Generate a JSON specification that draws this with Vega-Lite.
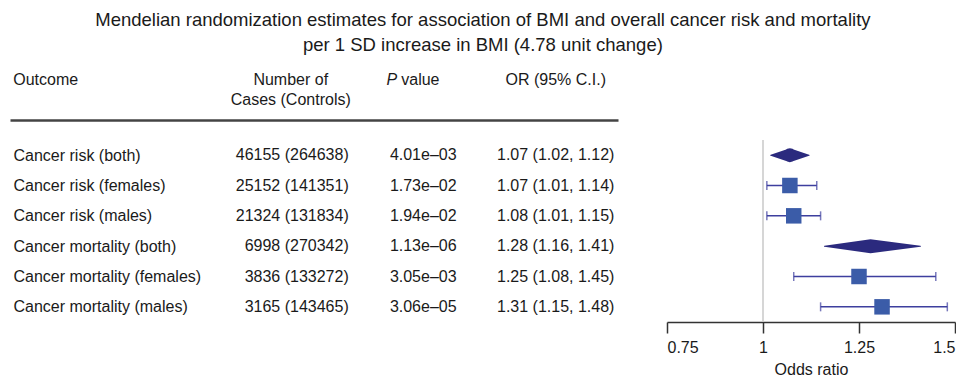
{
  "$schema": "https://vega.github.io/schema/vega-lite/v6.json",
  "padding": {"left": 10, "top": 10, "right": 0, "bottom": 0},
  "background": "white",
  "title": {
    "text": ["Mendelian randomization estimates for association of BMI and overall cancer risk and mortality", "per 1 SD increase in BMI (4.78 unit change)"],
    "anchor": "middle",
    "fontSize": 18.5,
    "fontWeight": "normal",
    "lineHeight": 25,
    "color": "#1a1a1a",
    "offset": 6
  },
  "datasets": {
    "rows": [
      {"outcome": "Cancer risk (both)", "cases": "46155 (264638)", "p": "4.01e–03", "or_ci": "1.07 (1.02, 1.12)", "or": 1.07, "lo": 1.02, "hi": 1.12, "kind": "both"},
      {"outcome": "Cancer risk (females)", "cases": "25152 (141351)", "p": "1.73e–02", "or_ci": "1.07 (1.01, 1.14)", "or": 1.07, "lo": 1.01, "hi": 1.14, "kind": "sex"},
      {"outcome": "Cancer risk (males)", "cases": "21324 (131834)", "p": "1.94e–02", "or_ci": "1.08 (1.01, 1.15)", "or": 1.08, "lo": 1.01, "hi": 1.15, "kind": "sex"},
      {"outcome": "Cancer mortality (both)", "cases": "6998 (270342)", "p": "1.13e–06", "or_ci": "1.28 (1.16, 1.41)", "or": 1.28, "lo": 1.16, "hi": 1.41, "kind": "both"},
      {"outcome": "Cancer mortality (females)", "cases": "3836 (133272)", "p": "3.05e–03", "or_ci": "1.25 (1.08, 1.45)", "or": 1.25, "lo": 1.08, "hi": 1.45, "kind": "sex"},
      {"outcome": "Cancer mortality (males)", "cases": "3165 (143465)", "p": "3.06e–05", "or_ci": "1.31 (1.15, 1.48)", "or": 1.31, "lo": 1.15, "hi": 1.48, "kind": "sex"}
    ],
    "headers": [
      {"col": "Outcome", "line": "1", "label": "Outcome"},
      {"col": "Cases", "line": "1", "label": "Number of"},
      {"col": "Cases", "line": "2", "label": "Cases (Controls)"},
      {"col": "P", "line": "1", "label": "P"},
      {"col": "P", "line": "1", "label": "value"},
      {"col": "OR", "line": "1", "label": "OR (95% C.I.)"}
    ],
    "reference": [{"ref": 1}]
  },
  "spacing": 20,
  "bounds": "flush",
  "vconcat": [
    {
      "width": 608,
      "height": 60,
      "data": {"name": "headers"},
      "encoding": {
        "x": {
          "field": "col", "type": "nominal",
          "scale": {"type": "band", "domain": ["Outcome", "Cases", "P", "OR"], "paddingInner": 0.06, "paddingOuter": 0.3245, "align": 1},
          "axis": {"orient": "bottom", "labels": false, "ticks": false, "grid": false, "title": null, "domain": true, "domainColor": "#444", "domainWidth": 2.5}
        },
        "y": {"field": "line", "type": "nominal", "scale": {"type": "point", "domain": ["1", "2"], "padding": 1}, "axis": null},
        "text": {"field": "label"}
      },
      "layer": [
        {"transform": [{"filter": "datum.col == 'Cases' || datum.col == 'OR'"}], "mark": {"type": "text", "align": "center", "fontSize": 16, "color": "#1a1a1a"}},
        {"transform": [{"filter": "datum.label == 'Outcome'"}], "mark": {"type": "text", "align": "left", "dx": -145, "fontSize": 16, "color": "#1a1a1a"}},
        {"transform": [{"filter": "datum.label == 'P'"}], "mark": {"type": "text", "align": "right", "dx": -26, "fontSize": 16, "fontStyle": "italic", "color": "#1a1a1a"}},
        {"transform": [{"filter": "datum.label == 'value'"}], "mark": {"type": "text", "align": "left", "dx": -22, "fontSize": 16, "color": "#1a1a1a"}}
      ]
    },
    {
      "spacing": 49,
      "bounds": "flush",
      "hconcat": [
        {
          "width": 608,
          "height": 182,
          "data": {"name": "rows"},
          "encoding": {
            "y": {
              "field": "outcome", "type": "nominal",
              "scale": {"type": "point", "padding": 0.5, "domain": ["Cancer risk (both)", "Cancer risk (females)", "Cancer risk (males)", "Cancer mortality (both)", "Cancer mortality (females)", "Cancer mortality (males)"]},
              "axis": {"title": null, "domain": false, "ticks": false, "tickSize": 0, "grid": false, "labelAlign": "left", "labelPadding": -3, "labelFontSize": 16, "labelColor": "#1a1a1a", "labelLimit": 400}
            }
          },
          "layer": [
            {"mark": {"type": "text", "fontSize": 16, "color": "#1a1a1a", "align": "right", "dx": 58}, "encoding": {"x": {"datum": "Cases", "type": "nominal", "scale": {"type": "band", "domain": ["Outcome", "Cases", "P", "OR"], "paddingInner": 0.06, "paddingOuter": 0.3245, "align": 1}, "axis": null}, "text": {"field": "cases"}}},
            {"mark": {"type": "text", "fontSize": 16, "color": "#1a1a1a"}, "encoding": {"x": {"datum": "P", "type": "nominal"}, "text": {"field": "p"}}},
            {"mark": {"type": "text", "fontSize": 16, "color": "#1a1a1a"}, "encoding": {"x": {"datum": "OR", "type": "nominal"}, "text": {"field": "or_ci"}}}
          ]
        },
        {
          "width": 288,
          "height": 182,
          "encoding": {
            "y": {
              "field": "outcome", "type": "nominal",
              "scale": {"type": "point", "padding": 0.5, "domain": ["Cancer risk (both)", "Cancer risk (females)", "Cancer risk (males)", "Cancer mortality (both)", "Cancer mortality (females)", "Cancer mortality (males)"]},
              "axis": null
            }
          },
          "layer": [
            {
              "data": {"name": "reference"},
              "mark": {"type": "rule", "color": "#c9c9c9", "strokeWidth": 1.5},
              "encoding": {
                "x": {
                  "field": "ref", "type": "quantitative",
                  "scale": {"domain": [0.75, 1.5], "nice": false, "zero": false},
                  "axis": {"values": [0.75, 1, 1.25, 1.5], "format": ".3~g", "title": "Odds ratio", "grid": false, "domainColor": "#333", "domainWidth": 1.5, "tickColor": "#333", "tickWidth": 1.5, "tickSize": 11, "labelFontSize": 16, "labelColor": "#1a1a1a", "labelPadding": 6, "titleFontSize": 16, "titleFontWeight": "normal", "titleColor": "#1a1a1a", "titlePadding": 6}
                },
                "y": null
              }
            },
            {
              "data": {"name": "rows"},
              "transform": [{"filter": "datum.kind == 'sex'"}],
              "mark": {"type": "rule", "color": "#3d3f9e", "strokeWidth": 1.5},
              "encoding": {"x": {"field": "lo", "type": "quantitative"}, "x2": {"field": "hi"}}
            },
            {
              "data": {"name": "rows"},
              "transform": [{"filter": "datum.kind == 'sex'"}],
              "mark": {"type": "tick", "color": "#3d3f9e", "thickness": 1.5, "size": 9},
              "encoding": {"x": {"field": "lo", "type": "quantitative"}}
            },
            {
              "data": {"name": "rows"},
              "transform": [{"filter": "datum.kind == 'sex'"}],
              "mark": {"type": "tick", "color": "#3d3f9e", "thickness": 1.5, "size": 9},
              "encoding": {"x": {"field": "hi", "type": "quantitative"}}
            },
            {
              "data": {"name": "rows"},
              "transform": [{"filter": "datum.kind == 'sex'"}],
              "mark": {"type": "point", "shape": "square", "filled": true, "size": 240, "color": "#3b5ca8", "opacity": 1},
              "encoding": {"x": {"field": "or", "type": "quantitative"}}
            },
            {
              "data": {"name": "rows"},
              "transform": [{"filter": "datum.kind == 'both'"}, {"fold": ["lo", "or", "hi"], "as": ["key", "val"]}],
              "mark": {"type": "trail", "color": "#2b2a7e"},
              "encoding": {
                "x": {"field": "val", "type": "quantitative"},
                "detail": {"field": "outcome"},
                "size": {"field": "key", "type": "ordinal", "scale": {"type": "ordinal", "domain": ["lo", "or", "hi"], "range": [0, 14, 0]}, "legend": null}
              }
            }
          ]
        }
      ]
    }
  ],
  "config": {
    "font": "Liberation Sans",
    "view": {"stroke": null},
    "axis": {"labelFont": "Liberation Sans", "titleFont": "Liberation Sans"}
  }
}
